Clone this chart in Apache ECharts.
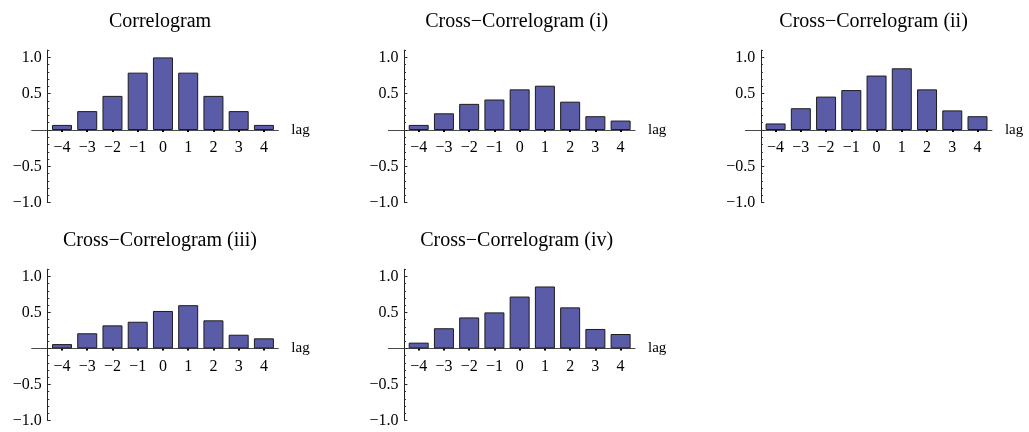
<!DOCTYPE html>
<html>
<head>
<meta charset="utf-8">
<script src="https://cdn.jsdelivr.net/npm/echarts@6/dist/echarts.min.js"></script>
<style>
html,body{margin:0;padding:0;background:#fff;}
#chart{width:1029px;height:432px;}
</style>
</head>
<body>
<div id="chart"></div>
<script>
// ---- data ----
const lags = [-4, -3, -2, -1, 0, 1, 2, 3, 4];
const correlogram = [0.07, 0.26, 0.47, 0.79, 1.00, 0.79, 0.47, 0.26, 0.07];
const crossI   = [0.07, 0.23, 0.36, 0.42, 0.56, 0.61, 0.39, 0.19, 0.13];
const crossII  = [0.09, 0.30, 0.46, 0.55, 0.75, 0.85, 0.56, 0.27, 0.19];
const crossIII = [0.06, 0.21, 0.32, 0.37, 0.52, 0.60, 0.39, 0.19, 0.14];
const crossIV  = [0.08, 0.28, 0.43, 0.50, 0.72, 0.86, 0.57, 0.27, 0.20];
const panelTitles = ['Correlogram', 'Cross\u2212Correlogram (i)', 'Cross\u2212Correlogram (ii)',
                     'Cross\u2212Correlogram (iii)', 'Cross\u2212Correlogram (iv)'];
const yUpperTicks = [0, 0.5, 1.0];
const yUpperLabels = [0.5, 1.0];
const yLowerTicks = [-1.0, -0.5, 0];
const yLowerLabels = [-1.0, -0.5];
const xAxisName = 'lag';

const panelValues = [correlogram, crossI, crossII, crossIII, crossIV];

// ---- layout (style only) ----
const FONT = '"Liberation Serif", "Times New Roman", serif';
const lefts = [31.7, 388.4, 745.3];
const zeroY = [130.0, 348.4];      // pixel row of value 0 per row
const unit = [72.6, 72.0];         // pixels per 1.0 per row
const gridW = 246.6;
const X_MIN = -5.2, X_MAX = 4.57, Y_TOP = 1.1, Y_BOT = -1.0;
const yOffset = -16;

const fmtNum = v => (v < 0 ? '\u2212' : '') + Math.abs(v).toFixed(1);
const fmtInt = v => (v < 0 ? '\u2212' : '') + Math.abs(v);

const grids = [], xAxes = [], yAxes = [], series = [], titles = [];

function yAxisPair(gi, min, max, ticks, labels) {
  yAxes.push({
    type: 'value', gridIndex: gi, min: min, max: max, offset: yOffset, position: 'left',
    axisLine: {show: true, onZero: false, lineStyle: {color: '#222', width: 1}},
    axisTick: {show: true, inside: true, customValues: ticks, length: 3, lineStyle: {color: '#222', width: 1}},
    axisLabel: {show: true, customValues: labels, formatter: fmtNum, margin: 6,
      fontFamily: FONT, fontSize: 16, color: '#000'},
    splitLine: {show: false}
  });
  const majorIdx = yAxes.length - 1;
  yAxes.push({
    type: 'value', gridIndex: gi, min: min, max: max, interval: 0.1, offset: yOffset, position: 'left',
    axisLine: {show: false, onZero: false},
    axisTick: {show: true, inside: true, length: 1.6, lineStyle: {color: '#333', width: 1}},
    axisLabel: {show: false},
    splitLine: {show: false}
  });
  return majorIdx;
}

panelValues.forEach((vals, i) => {
  const row = i < 3 ? 0 : 1;
  const col = i % 3;
  const left = lefts[col];
  const z0 = zeroY[row], u = unit[row];
  const topPx = z0 - Y_TOP * u;

  // upper grid: holds the bars, x axis sits at its bottom (value 0)
  const gUp = grids.length;
  grids.push({left: left, top: topPx, width: gridW, height: Y_TOP * u});
  // lower grid: only the negative part of the y axis
  const gLo = grids.length;
  grids.push({left: left, top: z0, width: gridW, height: -Y_BOT * u});

  titles.push({
    text: panelTitles[i],
    left: left + gridW / 2,
    top: topPx - 43,
    textAlign: 'center',
    textStyle: {fontFamily: FONT, fontSize: 20, fontWeight: 'normal', color: '#000'}
  });

  const xUp = xAxes.length;
  xAxes.push({
    type: 'value', gridIndex: gUp, min: X_MIN, max: X_MAX, position: 'bottom',
    name: xAxisName, nameLocation: 'end', nameGap: 13,
    nameTextStyle: {fontFamily: FONT, fontSize: 15, color: '#000', verticalAlign: 'middle', padding: [4, 0, 0, 0]},
    axisLine: {show: true, onZero: false, lineStyle: {color: '#4a4a4a', width: 1}},
    axisTick: {show: true, customValues: lags, length: 2, inside: false, lineStyle: {color: '#000', width: 2}},
    axisLabel: {show: true, customValues: lags, formatter: fmtInt, margin: 10,
      fontFamily: FONT, fontSize: 16, color: '#000'},
    splitLine: {show: false}
  });
  xAxes.push({
    type: 'value', gridIndex: gLo, min: X_MIN, max: X_MAX, show: false
  });

  const yUp = yAxisPair(gUp, 0, Y_TOP, yUpperTicks, yUpperLabels);
  yAxisPair(gLo, Y_BOT, 0, yLowerTicks, yLowerLabels);

  series.push({
    type: 'bar', xAxisIndex: xUp, yAxisIndex: yUp,
    data: lags.map((l, k) => [l, vals[k]]),
    barWidth: 20,
    itemStyle: {color: '#5b5ca8', borderColor: '#1c1c1c', borderWidth: 1},
    silent: true, animation: false, z: 1
  });
});

const chart = echarts.init(document.getElementById('chart'), null, {renderer: 'canvas'});
chart.setOption({
  backgroundColor: '#fff',
  animation: false,
  title: titles,
  grid: grids,
  xAxis: xAxes,
  yAxis: yAxes,
  series: series
});
</script>
</body>
</html>
